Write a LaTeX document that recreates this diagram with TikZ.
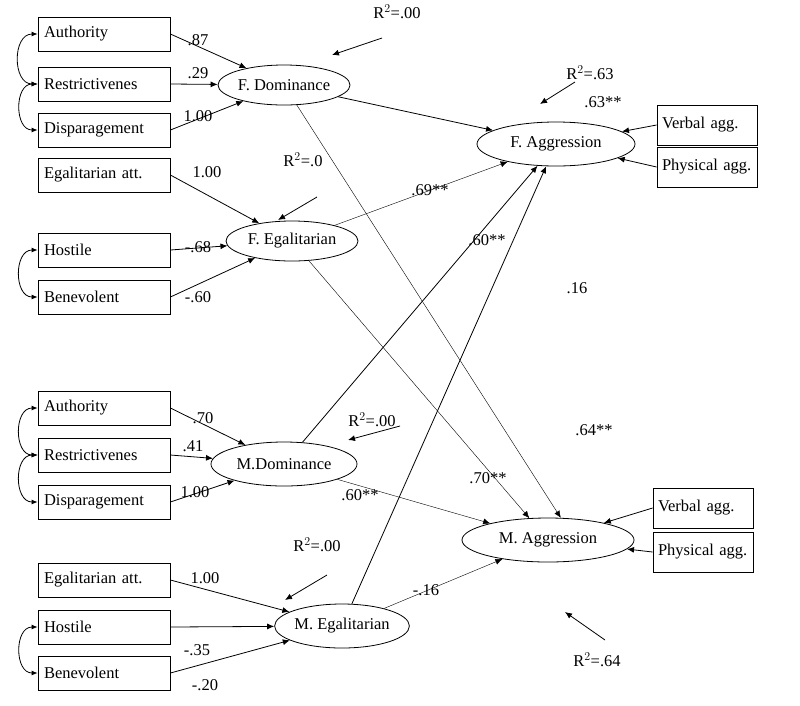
\documentclass[tikz,border=0pt]{standalone}
\usepackage{fontspec}
\setmainfont{Liberation Serif}
\usetikzlibrary{shapes.geometric,arrows.meta}
\tikzset{
  box/.style={draw,thick,minimum width=132pt,minimum height=34pt,text width=120pt,align=left,font=\fontsize{16.5}{18}\selectfont},
  rbox/.style={draw,thick,minimum width=100pt,minimum height=40pt,text width=90pt,align=left,font=\fontsize{16.5}{18}\selectfont},
  lat/.style={draw,thick,ellipse,inner sep=0pt,font=\fontsize{16.5}{18}\selectfont},
  arr/.style={-{Latex[length=7pt,width=6pt]},thick},
  cov/.style={{Latex[length=6pt,width=5pt]}-{Latex[length=6pt,width=5pt]},thick},
  lbl/.style={font=\fontsize{16.5}{18}\selectfont}
}
\begin{document}
\begin{tikzpicture}[x=1pt,y=-1pt]
\useasboundingbox (0,0) rectangle (800,705);
% indicator boxes
\node[box] (auth1) at (104,34) {Authority};
\node[box] (restr1) at (104,84) {Restrictivenes};
\node[box] (disp1) at (104,130) {Disparagement};
\node[box] (egal1) at (104,175) {Egalitarian att.};
\node[box] (host1) at (104,250) {Hostile};
\node[box] (bene1) at (104,297) {Benevolent};
\node[box] (auth2) at (104,408) {Authority};
\node[box] (restr2) at (104,455) {Restrictivenes};
\node[box] (disp2) at (104,502) {Disparagement};
\node[box] (egal2) at (104,580) {Egalitarian att.};
\node[box] (host2) at (104,627) {Hostile};
\node[box] (bene2) at (104,673) {Benevolent};
\node[rbox] (verb1) at (707,125) {Verbal agg.};
\node[rbox] (phys1) at (707,167) {Physical agg.};
\node[rbox] (verb2) at (703,508) {Verbal agg.};
\node[rbox] (phys2) at (703,552) {Physical agg.};
% latent variables
\node[lat,minimum width=132pt,minimum height=40pt] (fdom) at (284,85) {F. Dominance};
\node[lat,minimum width=132pt,minimum height=40pt] (fegal) at (292,241) {F. Egalitarian};
\node[lat,minimum width=158pt,minimum height=44pt] (fagg) at (556,144) {F. Aggression};
\node[lat,minimum width=146pt,minimum height=44pt] (mdom) at (284,464) {M.Dominance};
\node[lat,minimum width=172pt,minimum height=44pt] (magg) at (548,540) {M. Aggression};
\node[lat,minimum width=126pt,minimum height=44pt] (megal) at (342,626) {M. Egalitarian};
% loadings
\draw[arr] (auth1.east) -- (fdom);
\draw[arr] (restr1.east) -- (fdom);
\draw[arr] (disp1.east) -- (fdom);
\draw[arr] (egal1.east) -- (fegal);
\draw[arr] (host1.east) -- (fegal);
\draw[arr] (bene1.east) -- (fegal);
\draw[arr] (auth2.east) -- (mdom);
\draw[arr] (restr2.east) -- (mdom);
\draw[arr] (disp2.east) -- (mdom);
\draw[arr] (egal2.east) -- (megal);
\draw[arr] (host2.east) -- (megal);
\draw[arr] (bene2.east) -- (megal);
\draw[arr] (verb1.west) -- (fagg);
\draw[arr] (phys1.west) -- (fagg);
\draw[arr] (verb2.west) -- (magg);
\draw[arr] (phys2.west) -- (magg);
% covariances
\draw[cov] (auth1.west) to[out=180,in=180,looseness=1.3] (restr1.west);
\draw[cov] (restr1.west) to[out=180,in=180,looseness=1.3] (disp1.west);
\draw[cov] (host1.west) to[out=180,in=180,looseness=1.3] (bene1.west);
\draw[cov] (auth2.west) to[out=180,in=180,looseness=1.3] (restr2.west);
\draw[cov] (restr2.west) to[out=180,in=180,looseness=1.3] (disp2.west);
\draw[cov] (host2.west) to[out=180,in=180,looseness=1.3] (bene2.west);
% paths
\draw[arr] (fdom) -- (fagg);
\draw[arr,thin] (fdom) -- (magg.60);
\draw[arr,thin] (fegal) -- (fagg);
\draw[arr,thin] (fegal) -- (magg);
\draw[arr] (mdom) -- (fagg);
\draw[arr,thin] (mdom) -- (magg);
\draw[arr] (megal) -- (fagg);
\draw[arr,thin] (megal) -- (magg);
% residuals
\coordinate (r1) at (382,38);
\coordinate (r2) at (317,197);
\coordinate (r3) at (575,82);
\coordinate (r4) at (400,426);
\coordinate (r5) at (327,575);
\coordinate (r6) at (605,640);
\draw[arr] (r1) -- (332,55);
\draw[arr] (r2) -- (278,220);
\draw[arr] (r3) -- (540,104);
\draw[arr] (r4) -- (348,440);
\draw[arr] (r5) -- (285,600);
\draw[arr] (r6) -- (565,612);
% labels
\node[lbl] (l1) at (397,12) {R$^2$=.00};
\node[lbl] (l2) at (303,160) {R$^2$=.0};
\node[lbl] (l3) at (590,73) {R$^2$=.63};
\node[lbl] (l4) at (372,420) {R$^2$=.00};
\node[lbl] (l5) at (317,545) {R$^2$=.00};
\node[lbl] (l6) at (597,660) {R$^2$=.64};
\node[lbl] at (198,40) {.87};
\node[lbl] at (198,73) {.29};
\node[lbl] at (198,116) {1.00};
\node[lbl] at (207,172) {1.00};
\node[lbl] at (198,247) {-.68};
\node[lbl] at (198,297) {-.60};
\node[lbl] at (203,418) {.70};
\node[lbl] at (193,446) {.41};
\node[lbl] at (195,492) {1.00};
\node[lbl] at (205,578) {1.00};
\node[lbl] at (197,650) {-.35};
\node[lbl] at (205,685) {-.20};
\node[lbl] at (603,102) {.63**};
\node[lbl] at (430,190) {.69**};
\node[lbl] at (487,240) {.60**};
\node[lbl] at (577,288) {.16};
\node[lbl] at (594,430) {.64**};
\node[lbl] at (488,478) {.70**};
\node[lbl] at (360,495) {.60**};
\node[lbl] at (426,590) {-.16};
\end{tikzpicture}
\end{document}
